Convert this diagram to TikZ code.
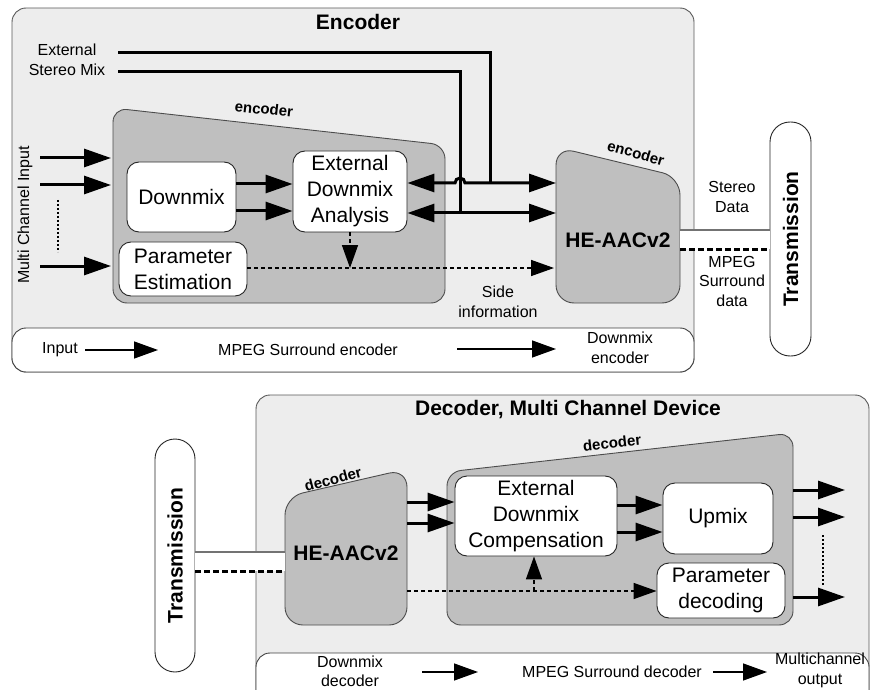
\documentclass[tikz,border=0pt]{standalone}
\usepackage{fontspec}
\setmainfont{Liberation Sans}
\usetikzlibrary{arrows.meta}
\begin{document}
\begin{tikzpicture}[x=1pt,y=-1pt,
 panel/.style={draw=black!65, fill=black!7, line width=0.9pt, rounded corners=14pt},
 legbox/.style={draw=black!75, fill=white, line width=0.9pt, rounded corners=14pt},
 trap/.style={draw=black!70, fill=black!25, line width=0.9pt, rounded corners=14pt},
 wbox/.style={draw=black!85, fill=white, rounded corners=12pt, line width=0.9pt, align=center, inner sep=0pt, font=\fontsize{21}{26}\selectfont},
 lbl/.style={align=center, inner sep=0pt, font=\fontsize{16}{19.5}\selectfont},
 ttl/.style={inner sep=0pt, font=\fontsize{21}{25}\selectfont\bfseries},
 slant/.style={inner sep=0pt, font=\fontsize{15}{18}\selectfont\bfseries},
 fatline/.style={line width=3pt},
 fat/.style={line width=3pt, -{Triangle[length=27pt,width=18pt]}},
 fatboth/.style={line width=3pt, {Triangle[length=27pt,width=18pt]}-{Triangle[length=27pt,width=18pt]}},
 dsh/.style={line width=1.5pt, dash pattern=on 4pt off 3pt, -{Triangle[length=23pt,width=16pt]}},
 dots/.style={line width=1.3pt, dash pattern=on 2pt off 2pt},
 legarr/.style={line width=1.4pt, -{Triangle[length=24pt,width=17pt]}},
 trans/.style={draw=black!85, fill=white, rounded corners=20pt, line width=0.9pt, minimum width=41pt, minimum height=234pt, inner sep=0pt},
 grayline/.style={draw=black!55, line width=1.3pt},
 thickdash/.style={line width=3pt, dash pattern=on 6pt off 3pt},
]
\useasboundingbox (0,0) rectangle (871,690);
\clip (0,0) rectangle (871,690);

% ================= ENCODER =================
\draw[panel] (12,8) rectangle (694,372);
\draw[legbox] (12,328) rectangle (694,372);
\node[ttl] (enctitle) at (358,22) {Encoder};

\node[lbl] (extmix) at (67,60) {External\\Stereo Mix};
\coordinate (ext1) at (118,53);
\coordinate (ext2) at (118,72);

% encoder trapezoid
\draw[trap] (113,108) -- (445,145) -- (445,303) -- (113,303) -- cycle;
\node[slant, rotate=-6.4] (enclbl) at (264,109) {encoder};

% HE-AAC encoder
\draw[trap, rounded corners=18pt] (556,147) -- (680,177) -- (680,303) -- (556,303) -- cycle;
\node[slant, rotate=-16] (heenclbl) at (636,153) {encoder};
\node[ttl] (heenc) at (618,240) {HE-AACv2};
\coordinate (heencL) at (556,0);
\coordinate (heencR) at (680,0);

% boxes
\node[wbox, minimum width=109pt, minimum height=70pt] (dmx) at (181.5,197) {Downmix};
\node[wbox, minimum width=114pt, minimum height=81pt] (eda) at (350,191.5) {External\\Downmix\\Analysis};
\node[wbox, minimum width=128pt, minimum height=54pt] (pest) at (183,269) {Parameter\\Estimation};

% multi channel input
\node[lbl, rotate=90] (mci) at (25,215) {Multi Channel Input};
\coordinate (in1) at (40,158);
\coordinate (in2) at (40,185);
\coordinate (in3) at (40,266);
\coordinate (trapL) at (111,0);
\draw[fat] (in1) -- (trapL |- in1);
\draw[fat] (in2) -- (trapL |- in2);
\draw[fat] (in3) -- (trapL |- in3);
\coordinate (dv1) at (58,200);
\coordinate (dv2) at (58,252);
\draw[dots] (dv1) -- (dv2);

% downmix -> EDA
\coordinate (r184) at (0,184);
\coordinate (r211) at (0,211);
\draw[fat] (dmx.east |- r184) -- (eda.west |- r184);
\draw[fat] (dmx.east |- r211) -- (eda.west |- r211);

% external stereo mix lines
\coordinate (r183) at (0,183);
\coordinate (r213) at (0,213);
\draw[fatline] (ext1) -- (490,53) -- (490,183);
\draw[fatline] (ext2) -- (460,72) -- (460,213);
\draw[fatboth] (eda.east |- r183) -- (455,183) arc[start angle=180, end angle=360, radius=5] -- (heencL |- r183);
\draw[fatboth] (eda.east |- r213) -- (heencL |- r213);

% side information
\coordinate (r268) at (0,268);
\draw[dsh] (eda.south) -- (eda.south |- r268);
\draw[dsh] (pest.east |- r268) -- ([xshift=-2pt]heencL |- r268);
\node[lbl] (side) at (498,302) {Side\\information};

% transmission (top)
\node[trans] (tx1) at (790.5,239) {};
\node[ttl, rotate=90] (tx1t) at (tx1) {Transmission};
\coordinate (r230) at (0,230);
\coordinate (r249) at (0,249);
\fill[white] (heencR |- r230) rectangle (tx1.west |- r249);
\draw[grayline] (heencR |- r230) -- (tx1.west |- r230);
\draw[thickdash] (heencR |- r249) -- (tx1.west |- r249);
\node[lbl] (stereo) at (732,197) {Stereo\\Data};
\node[lbl] (mpsdata) at (732,281) {MPEG\\Surround\\data};

% legend (encoder)
\node[lbl] (leginput) at (60,350) {Input};
\node[lbl] (legmpeg) at (308,350) {MPEG Surround encoder};
\node[lbl] (legdmx) at (620,348) {Downmix\\encoder};
\coordinate (la1) at (85,350);
\coordinate (la2) at (158,350);
\coordinate (la3) at (457,349);
\coordinate (la4) at (556,349);
\draw[legarr] (la1) -- (la2);
\draw[legarr] (la3) -- (la4);

% ================= DECODER =================
\draw[panel] (256,395) rectangle (869,740);
\draw[legbox] (256,653) rectangle (869,740);
\node[ttl] (dectitle) at (568,410) {Decoder, Multi Channel Device};

\node[trans, minimum height=233pt, minimum width=40pt] (tx2) at (175,555.5) {};
\node[ttl, rotate=90] (tx2t) at (tx2) {Transmission};

% HE-AAC decoder
\draw[trap, rounded corners=18pt] (285,497) -- (407,469) -- (407,625) -- (285,625) -- cycle;
\node[slant, rotate=15] (hedeclbl) at (333,479) {decoder};
\node[ttl] (hedec) at (346,553) {HE-AACv2};
\coordinate (hedecL) at (285,0);
\coordinate (hedecR) at (407,0);

% band
\coordinate (r552) at (0,552);
\coordinate (r571) at (0,571);
\fill[white] (tx2.east |- r552) rectangle (hedecL |- r571);
\draw[grayline] (tx2.east |- r552) -- (hedecL |- r552);
\draw[thickdash] (tx2.east |- r571) -- (hedecL |- r571);

% big decoder trapezoid
\draw[trap] (447,472) -- (793,433) -- (793,625) -- (447,625) -- cycle;
\node[slant, rotate=6.4] (declbl) at (612,443) {decoder};
\coordinate (bigR) at (793,0);

\node[wbox, minimum width=162pt, minimum height=80pt] (edc) at (536,516) {External\\Downmix\\Compensation};
\node[wbox, minimum width=110pt, minimum height=71pt] (upmix) at (718,518.5) {Upmix};
\node[wbox, minimum width=128pt, minimum height=55pt] (pdec) at (721,590.5) {Parameter\\decoding};

\coordinate (r502) at (0,502);
\coordinate (r523) at (0,523);
\draw[fat] (hedecR |- r502) -- (edc.west |- r502);
\draw[fat] (hedecR |- r523) -- (edc.west |- r523);
\coordinate (r505) at (0,505);
\coordinate (r532) at (0,532);
\draw[fat] (edc.east |- r505) -- (upmix.west |- r505);
\draw[fat] (edc.east |- r532) -- (upmix.west |- r532);

\coordinate (o1) at (845,490);
\coordinate (o2) at (845,517);
\coordinate (o3) at (845,597);
\draw[fat] (bigR |- o1) -- (o1);
\draw[fat] (bigR |- o2) -- (o2);
\draw[fat] (bigR |- o3) -- (o3);
\coordinate (dv3) at (823,535);
\coordinate (dv4) at (823,585);
\draw[dots] (dv3) -- (dv4);

\coordinate (r591) at (0,591);
\coordinate (c534) at (534,591);
\draw[dsh] (hedecR |- r591) -- (pdec.west |- r591);
\draw[dsh] (c534) -- (edc.south -| c534);

% legend (decoder)
\node[lbl] (legdmxd) at (350,671.5) {Downmix\\decoder};
\node[lbl] (legmpegd) at (612,672) {MPEG Surround decoder};
\node[lbl] (legmco) at (820,670.5) {Multichannel\\output};
\coordinate (lb1) at (422,672);
\coordinate (lb2) at (478,672);
\coordinate (lb3) at (713,672);
\coordinate (lb4) at (767,672);
\draw[legarr] (lb1) -- (lb2);
\draw[legarr] (lb3) -- (lb4);
\end{tikzpicture}
\end{document}
